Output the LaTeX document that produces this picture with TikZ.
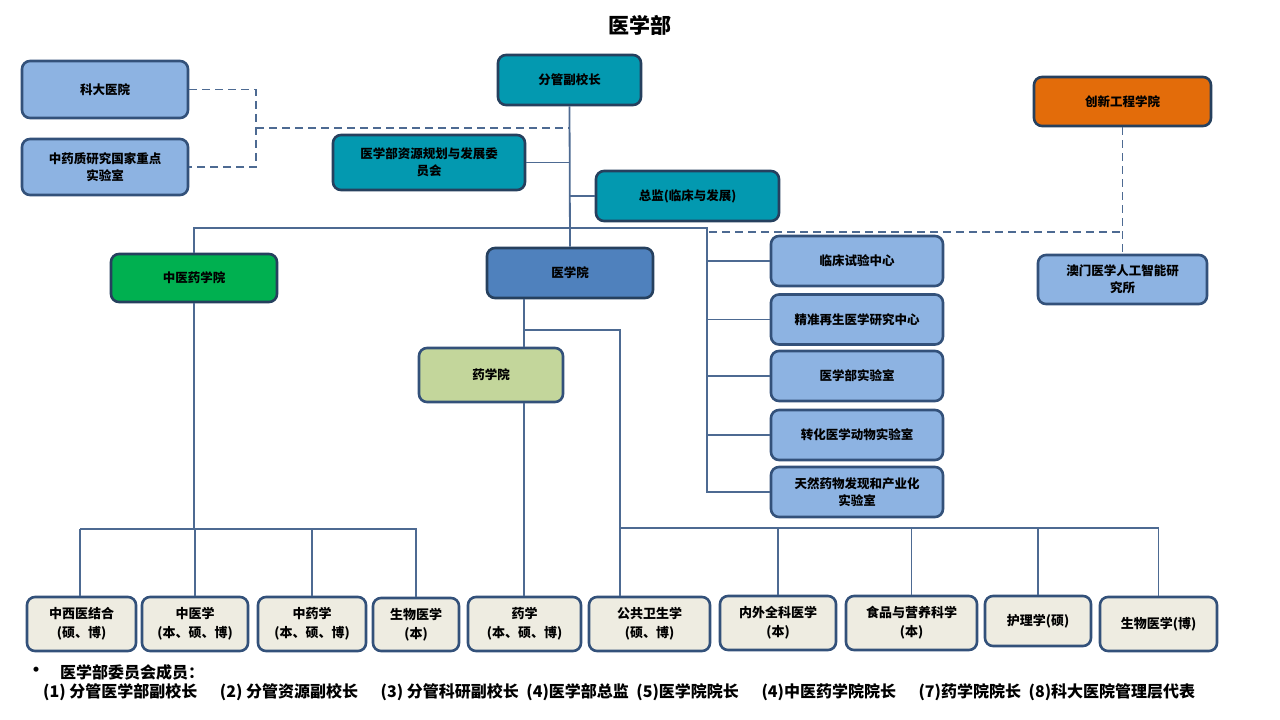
\documentclass[tikz,border=0pt]{standalone}
\usepackage{fontspec}
\setmainfont{Noto Sans CJK SC}
\definecolor{teal1}{HTML}{0399B0}
\definecolor{lblue}{HTML}{8DB3E2}
\definecolor{mblue}{HTML}{4F81BD}
\definecolor{green1}{HTML}{00B050}
\definecolor{olive1}{HTML}{C3D69B}
\definecolor{orange1}{HTML}{E36C0A}
\definecolor{cream}{HTML}{EEECE1}
\definecolor{bord}{HTML}{33517A}
\definecolor{bordd}{HTML}{26405E}
\definecolor{conncol}{HTML}{4D6A92}
\tikzset{
  box/.style={draw=bord, line width=2.6pt, rounded corners=8pt, align=center,
    font=\fontsize{12.5}{17}\selectfont\bfseries, inner sep=2pt},
  tealbox/.style={box, fill=teal1, draw=bordd},
  lbbox/.style={box, fill=lblue},
  bottombox/.style={box, fill=cream, font=\fontsize{13}{19}\selectfont\bfseries},
  conn/.style={draw=conncol, line width=1.8pt},
  dconn/.style={draw=conncol, line width=1.8pt, dash pattern=on 8pt off 5pt},
  fntext/.style={anchor=west, inner sep=0, font=\fontsize{16}{18}\selectfont\bfseries},
}
\newcommand{\bgap}{\hspace{\stretch{3}}}
\newcommand{\sgap}{\hspace{\stretch{1}}}
\begin{document}
\begin{tikzpicture}[x=1pt,y=-1pt]
\useasboundingbox (0,0) rectangle (1280,720);
\fill[white] (0,0) rectangle (1280,720);

\node (title) at (640,25) {\fontsize{21}{24}\selectfont\bfseries 医学部};

% top boxes
\node[lbbox, minimum width=166, minimum height=57] (keda) at (105,89.5) {科大医院};
\node[lbbox, minimum width=166, minimum height=56] (zyz) at (105,167) {中药质研究国家重点\\实验室};
\node[tealbox, minimum width=143, minimum height=50] (fuxiao) at (569.5,80) {分管副校长};
\node[tealbox, minimum width=192, minimum height=55] (ziyuan) at (429,162.5) {医学部资源规划与发展委\\员会};
\node[tealbox, minimum width=183, minimum height=50] (zongjian) at (687.5,196) {总监(临床与发展)};
\node[box, fill=orange1, draw=bordd, minimum width=177, minimum height=49] (chuangxin) at (1122.5,101.5) {创新工程学院};
\node[lbbox, minimum width=169, minimum height=49] (aomen) at (1122.5,279.5) {澳门医学人工智能研\\究所};

% schools
\node[box, fill=green1, draw=bordd, minimum width=166, minimum height=48] (zyyxy) at (194,278) {中医药学院};
\node[box, fill=mblue, draw=bordd, minimum width=166, minimum height=50] (yxy) at (570,273) {医学院};
\node[box, fill=olive1, minimum width=144, minimum height=54] (yaoxy) at (491,375) {药学院};

% right column
\node[lbbox, minimum width=172, minimum height=50] (r1) at (857,261) {临床试验中心};
\node[lbbox, minimum width=172, minimum height=50] (r2) at (857,319.5) {精准再生医学研究中心};
\node[lbbox, minimum width=172, minimum height=50] (r3) at (857,376) {医学部实验室};
\node[lbbox, minimum width=172, minimum height=50] (r4) at (857,435) {转化医学动物实验室};
\node[lbbox, minimum width=172, minimum height=50] (r5) at (857,492) {天然药物发现和产业化\\实验室};

% bottom boxes
\node[bottombox, minimum width=109, minimum height=54] (b1) at (81.5,624) {中西医结合\\(硕、博)};
\node[bottombox, minimum width=106, minimum height=54] (b2) at (195,624) {中医学\\(本、硕、博)};
\node[bottombox, minimum width=108, minimum height=54] (b3) at (312,624) {中药学\\(本、硕、博)};
\node[bottombox, minimum width=86, minimum height=53] (b4) at (416,624.5) {生物医学\\(本)};
\node[bottombox, minimum width=113, minimum height=54] (b5) at (524.5,624) {药学\\(本、硕、博)};
\node[bottombox, minimum width=121, minimum height=54] (b6) at (649.5,624) {公共卫生学\\(硕、博)};
\node[bottombox, minimum width=116, minimum height=54] (b7) at (778,623) {内外全科医学\\(本)};
\node[bottombox, minimum width=131, minimum height=54] (b8) at (911.5,623) {食品与营养科学\\(本)};
\node[bottombox, minimum width=106, minimum height=50] (b9) at (1038,621) {护理学(硕)};
\node[bottombox, minimum width=117, minimum height=54] (b10) at (1158.5,624) {生物医学(博)};

% coordinates
\coordinate (dl) at (256,128);
\coordinate (tbus) at (707,228);
\coordinate (dstart) at (709,232);
\coordinate (x524) at (524,330);
\coordinate (x620) at (620,330);
\coordinate (rbus) at (620,528);
\coordinate (lbus) at (80,529);

% top connectors
\draw[conn] (fuxiao.south) -- (yxy.north);
\draw[conn] (ziyuan.east) -- (ziyuan.east -| fuxiao.south);
\draw[conn] (zongjian.west) -- (zongjian.west -| fuxiao.south);
\draw[dconn] (keda.east) -- (keda.east -| dl) -- (zyz.east -| dl) -- (zyz.east);
\draw[dconn] (dl) -- (dl -| fuxiao.south);

% school bus
\draw[conn] (zyyxy.north) -- (zyyxy.north |- tbus) -- (tbus) -- (tbus |- r5.west) -- (r5.west);
\foreach \r in {r1,r2,r3,r4}{\draw[conn] (tbus |- \r.west) -- (\r.west);}
\draw[dconn] (dstart) -- (dstart -| aomen.north);
\draw[dconn] (chuangxin.south) -- (aomen.north);

% medical school
\draw[conn] (yxy.south -| x524) -- (yaoxy.north -| x524);
\draw[conn] (x524) -- (x620) -- (rbus) -- (rbus -| b10.north) -- (b10.north);
\draw[conn] (rbus) -- (rbus |- b6.north);
\foreach \b in {b7,b8,b9}{\draw[conn] (rbus -| \b.north) -- (\b.north);}
\draw[conn] (yaoxy.south -| x524) -- (b5.north -| x524);

% TCM school
\draw[conn] (zyyxy.south) -- (zyyxy.south |- lbus);
\draw[conn] (lbus) -- (lbus |- b1.north);
\draw[conn] (lbus) -- (lbus -| b4.north) -- (b4.north);
\draw[conn] (lbus -| b2.north) -- (b2.north);
\draw[conn] (lbus -| b3.north) -- (b3.north);

% footnote
\node[anchor=west, inner sep=0] (bul) at (27,672) {\fontsize{18}{18}\selectfont\bfseries •};
\node[fntext] (fn1) at (60,672) {医学部委员会成员：};
\node[fntext] (fn2) at (43,692) {\hbox to 1152pt{(1) 分管医学部副校长\bgap(2) 分管资源副校长\bgap(3) 分管科研副校长\sgap(4)医学部总监\sgap(5)医学院院长\bgap(4)中医药学院院长\bgap(7)药学院院长\sgap(8)科大医院管理层代表}};
\end{tikzpicture}
\end{document}
